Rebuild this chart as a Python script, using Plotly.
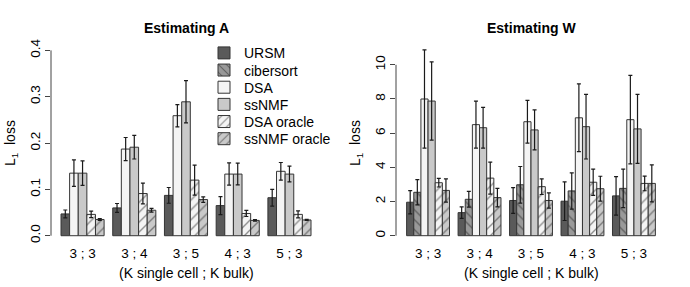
import plotly.graph_objects as go

# ---- data ----
groups = ["3 ; 3", "3 ; 4", "3 ; 5", "4 ; 3", "5 ; 3"]

# Estimating A (no cibersort)
a_ursm = [0.047, 0.060, 0.087, 0.065, 0.082]
a_ursm_err = [0.0085, 0.0095, 0.017, 0.0195, 0.018]
a_dsa = [0.135, 0.187, 0.259, 0.133, 0.139]
a_dsa_err = [0.0285, 0.025, 0.024, 0.024, 0.019]
a_ssnmf = [0.135, 0.191, 0.289, 0.133, 0.133]
a_ssnmf_err = [0.0265, 0.0255, 0.0455, 0.0235, 0.017]
a_dsa_or = [0.046, 0.091, 0.120, 0.048, 0.046]
a_dsa_or_err = [0.007, 0.0225, 0.0325, 0.0065, 0.0075]
a_ssnmf_or = [0.035, 0.055, 0.078, 0.033, 0.034]
a_ssnmf_or_err = [0.002, 0.004, 0.006, 0.0015, 0.0012]

# Estimating W
w_ursm = [1.96, 1.35, 2.06, 2.02, 2.33]
w_ursm_err = [0.68, 0.34, 0.75, 1.13, 1.13]
w_cib = [2.54, 2.13, 2.98, 2.62, 2.77]
w_cib_err = [0.74, 0.46, 1.07, 1.06, 1.13]
w_dsa = [8.0, 6.5, 6.67, 6.9, 6.79]
w_dsa_err = [2.87, 1.38, 1.25, 1.98, 2.59]
w_ssnmf = [7.88, 6.32, 6.19, 6.38, 6.25]
w_ssnmf_err = [2.29, 1.19, 1.17, 1.89, 2.02]
w_dsa_or = [3.10, 3.37, 2.87, 3.13, 3.06]
w_dsa_or_err = [0.25, 0.94, 0.46, 0.77, 0.43]
w_ssnmf_or = [2.65, 2.23, 2.06, 2.75, 3.06]
w_ssnmf_or_err = [0.68, 0.54, 0.45, 0.73, 1.08]

a_ticks = [0.0, 0.1, 0.2, 0.3, 0.4]
a_ticktext = ["0.0", "0.1", "0.2", "0.3", "0.4"]
w_ticks = [0, 2, 4, 6, 8, 10]
series_names = ["URSM", "cibersort", "DSA", "ssNMF", "DSA oracle", "ssNMF oracle"]

FONT = "Liberation Sans, Arial, Helvetica, sans-serif"
EDGE = "#353535"

styles = {
    "URSM": dict(color="#5a5a5a"),
    "cibersort": dict(color="#999999", pattern=dict(shape="\\", fgcolor="#2a2a2a", bgcolor="#999999", size=7, solidity=0.2)),
    "DSA": dict(color="#f4f4f4"),
    "ssNMF": dict(color="#c9c9c9"),
    "DSA oracle": dict(color="#f4f4f4", pattern=dict(shape="/", fgcolor="#2a2a2a", bgcolor="#f4f4f4", size=7, solidity=0.2)),
    "ssNMF oracle": dict(color="#c9c9c9", pattern=dict(shape="/", fgcolor="#2a2a2a", bgcolor="#c9c9c9", size=7, solidity=0.2)),
}

fig = go.Figure()

def legend_id(name):
    i = series_names.index(name)
    return "legend" if i == 0 else "legend%d" % (i + 1)

def add(name, vals, errs, xa, ya, show):
    st = styles[name]
    marker = dict(color=st["color"], line=dict(color=EDGE, width=1))
    if "pattern" in st:
        marker["pattern"] = st["pattern"]
    fig.add_trace(go.Bar(
        x=groups, y=vals, name=name, marker=marker, xaxis=xa, yaxis=ya,
        showlegend=show, legendgroup=name, legend=legend_id(name),
        error_y=dict(type="data", array=errs, visible=True, color="#1a1a1a", thickness=1.2, width=2),
    ))

for n, v, e in [("URSM", a_ursm, a_ursm_err), ("DSA", a_dsa, a_dsa_err), ("ssNMF", a_ssnmf, a_ssnmf_err),
                ("DSA oracle", a_dsa_or, a_dsa_or_err), ("ssNMF oracle", a_ssnmf_or, a_ssnmf_or_err)]:
    add(n, v, e, "x", "y", False)

for n, v, e in [("URSM", w_ursm, w_ursm_err), ("cibersort", w_cib, w_cib_err), ("DSA", w_dsa, w_dsa_err),
                ("ssNMF", w_ssnmf, w_ssnmf_err), ("DSA oracle", w_dsa_or, w_dsa_or_err),
                ("ssNMF oracle", w_ssnmf_or, w_ssnmf_or_err)]:
    add(n, v, e, "x2", "y2", True)

W, H = 690, 287
xd1 = [51 / W, 321 / W]
xd2 = [396 / W, 666 / W]
yd = [1 - 242.5 / H, 1 - 39.5 / H]

xcommon = dict(type="category", showgrid=False, zeroline=False, showline=False, ticks="",
               tickfont=dict(family=FONT, size=13.5, color="#000"))
ycommon = dict(showgrid=False, zeroline=False, showline=False, ticks="outside", ticklen=5,
               tickcolor="#444", tickangle=-90, tickfont=dict(family=FONT, size=13.5, color="#000"))

fig.update_layout(
    width=W, height=H, margin=dict(l=0, r=0, t=0, b=0),
    paper_bgcolor="white", plot_bgcolor="white",
    barmode="group", bargroupgap=0, bargap=1 / 6,
    font=dict(family=FONT, color="#000"),
    xaxis=dict(domain=xd1, anchor="y", range=[-0.61, 4.61], **xcommon),
    yaxis=dict(domain=yd, anchor="x", range=[-0.016, 0.416], tickvals=a_ticks, ticktext=a_ticktext, **ycommon),
    xaxis2=dict(domain=xd2, anchor="y2", range=[-0.623, 4.623], **xcommon),
    yaxis2=dict(domain=yd, anchor="x2", range=[-0.434, 11.28], tickvals=w_ticks, **ycommon),
)

# one legend box per entry so rows can sit as close as in the reference
row_y = [50, 67.4, 84.8, 102.2, 119.6, 137]
for i, ry in enumerate(row_y):
    key = "legend" if i == 0 else "legend%d" % (i + 1)
    fig.update_layout(**{key: dict(x=204 / W, y=1 - ry / H, xanchor="left", yanchor="middle",
                                   bgcolor="rgba(0,0,0,0)", borderwidth=0,
                                   font=dict(family=FONT, size=14, color="#000"))})

# axis lines spanning only first..last tick (R style)
fig.add_shape(type="line", xref="paper", yref="y", x0=xd1[0], x1=xd1[0], y0=a_ticks[0], y1=a_ticks[-1],
              line=dict(color="#444", width=1))
fig.add_shape(type="line", xref="paper", yref="y2", x0=xd2[0], x1=xd2[0], y0=w_ticks[0], y1=w_ticks[-1],
              line=dict(color="#444", width=1))

ann = []
for cx, t in [((xd1[0] + xd1[1]) / 2, "Estimating A"), ((xd2[0] + xd2[1]) / 2, "Estimating W")]:
    ann.append(dict(x=cx, y=1 - 24 / H, xref="paper", yref="paper", text="<b>" + t + "</b>", showarrow=False,
                    font=dict(family=FONT, size=14, color="#000"), xanchor="center", yanchor="middle"))
    ann.append(dict(x=cx, y=1 - 273 / H, xref="paper", yref="paper", text="(K single cell ; K bulk)",
                    showarrow=False, font=dict(family=FONT, size=14, color="#000"), xanchor="center", yanchor="middle"))
for lx in [11 / W, (345 + 11) / W]:
    ann.append(dict(x=lx, y=(yd[0] + yd[1]) / 2, xref="paper", yref="paper", text="L<sub>1</sub>  loss",
                    textangle=-90, showarrow=False, font=dict(family=FONT, size=14, color="#000"),
                    xanchor="center", yanchor="middle"))
fig.update_layout(annotations=ann)

fig.write_html("out.html", config={"displayModeBar": False},
               post_script="document.body.style.margin='0px';document.body.style.padding='0px';")
